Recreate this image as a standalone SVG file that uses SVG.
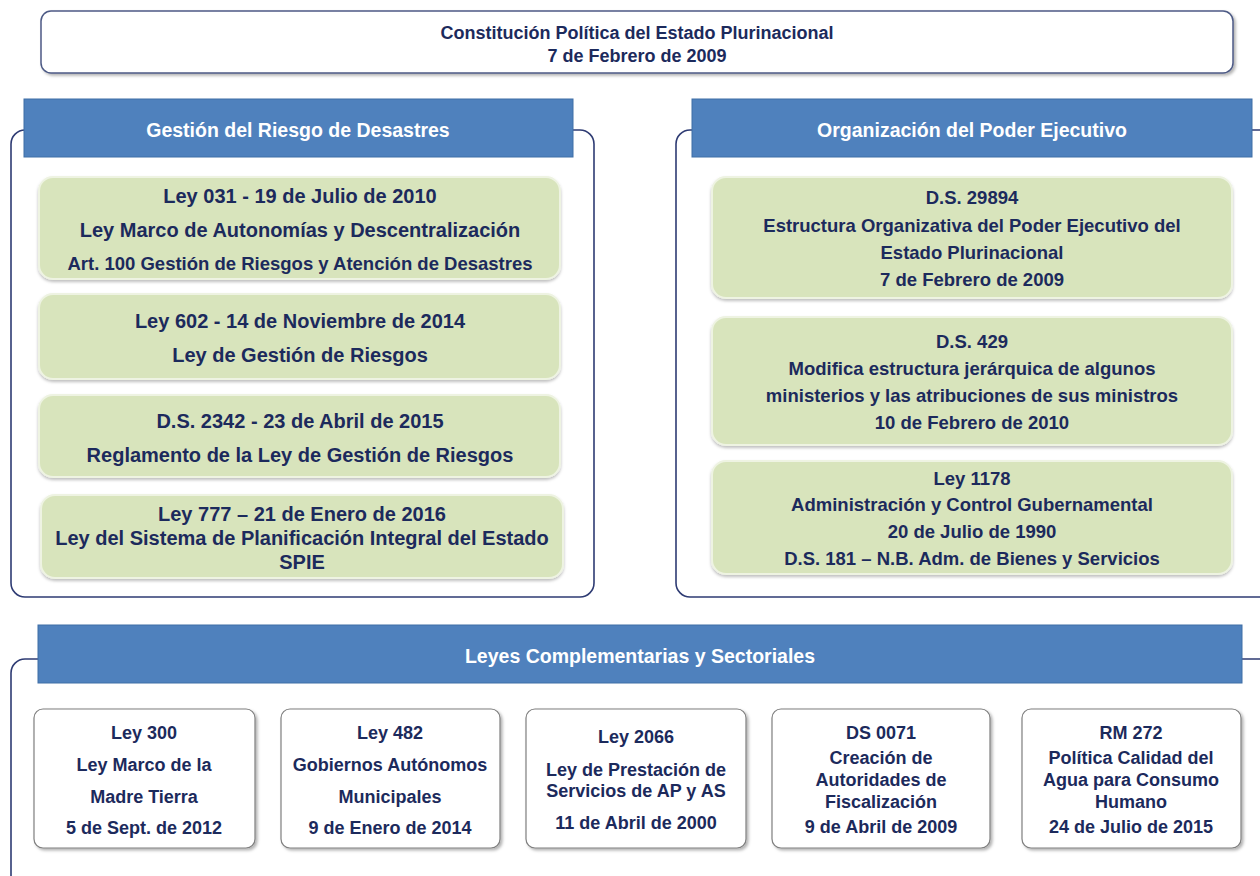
<svg xmlns="http://www.w3.org/2000/svg" width="1260" height="876" viewBox="0 0 1260 876">
<style>
text{font-family:"Liberation Sans",Arial,sans-serif;font-weight:bold;text-anchor:middle;fill:#1c2a5c}
.frame{fill:none;stroke:#2e3b73;stroke-width:1.6}
.hdr{fill:#4f81bd;stroke:#3f6ea6;stroke-width:1}
.hdrt{fill:#ffffff;font-size:19.5px}
.green{fill:#d8e4bc;stroke:#eef3e2;stroke-width:2;filter:url(#sh)}
.gt{font-size:20px}
.gr{font-size:18.5px}
.white{fill:#ffffff;stroke:#7f7f7f;stroke-width:1.2;filter:url(#sh2)}
.wt{font-size:18px}
.tt{font-size:18px}
</style>
<defs>
<filter id="sh" x="-5%" y="-10%" width="110%" height="130%"><feDropShadow dx="0" dy="2" stdDeviation="1.5" flood-color="#000" flood-opacity="0.25"/></filter>
<filter id="sh2" x="-10%" y="-10%" width="120%" height="130%"><feDropShadow dx="2" dy="2" stdDeviation="1.5" flood-color="#000" flood-opacity="0.3"/></filter>
</defs>
<rect width="1260" height="876" fill="#ffffff"/>
<g id="connectors">
<rect class="frame" x="11" y="130" width="583" height="467" rx="14"/>
<rect class="frame" x="676" y="130" width="620" height="467" rx="14"/>
<rect class="frame" x="11" y="659" width="1290" height="320" rx="14"/>
</g>
<g id="constitucion">
<rect x="41" y="11" width="1192" height="62" rx="10" fill="#fff" stroke="#4d5a85" stroke-width="1.5" filter="url(#sh2)"/>
<text class="tt" x="637" y="39">Constitución Política del Estado Plurinacional</text>
<text class="tt" x="637" y="62">7 de Febrero de 2009</text>
</g>
<g id="hdr-gestion">
<rect class="hdr" x="24" y="99" width="549" height="58"/>
<text class="hdrt" x="298" y="137">Gestión del Riesgo de Desastres</text>
</g>
<g id="hdr-organizacion">
<rect class="hdr" x="692" y="99" width="560" height="58"/>
<text class="hdrt" x="972" y="137">Organización del Poder Ejecutivo</text>
</g>
<g id="hdr-leyes">
<rect class="hdr" x="38" y="625" width="1204" height="58"/>
<text class="hdrt" x="640" y="663">Leyes Complementarias y Sectoriales</text>
</g>
<g id="ley031">
<rect class="green" x="39" y="177" width="521" height="102" rx="14"/>
<text class="gt" x="300" y="203">Ley 031 - 19 de Julio de 2010</text>
<text class="gt" x="300" y="237">Ley Marco de Autonomías y Descentralización</text>
<text class="gt" x="300" y="270" style="font-size:18.5px">Art. 100 Gestión de Riesgos y Atención de Desastres</text>
</g>
<g id="ley602">
<rect class="green" x="39" y="294" width="521" height="85" rx="14"/>
<text class="gt" x="300" y="328">Ley 602 - 14 de Noviembre de 2014</text>
<text class="gt" x="300" y="362">Ley de Gestión de Riesgos</text>
</g>
<g id="ds2342">
<rect class="green" x="39" y="395" width="521" height="82" rx="14"/>
<text class="gt" x="300" y="428">D.S. 2342 - 23 de Abril de 2015</text>
<text class="gt" x="300" y="462">Reglamento de la Ley de Gestión de Riesgos</text>
</g>
<g id="ley777">
<rect class="green" x="41" y="495" width="522" height="83" rx="14"/>
<text class="gt" x="302" y="521">Ley 777 – 21 de Enero de 2016</text>
<text class="gt" x="302" y="545">Ley del Sistema de Planificación Integral del Estado</text>
<text class="gt" x="302" y="569">SPIE</text>
</g>
<g id="ds29894">
<rect class="green" x="712" y="177" width="520" height="121" rx="14"/>
<text class="gr" x="972" y="204">D.S. 29894</text>
<text class="gr" x="972" y="232">Estructura Organizativa del Poder Ejecutivo del</text>
<text class="gr" x="972" y="259">Estado Plurinacional</text>
<text class="gr" x="972" y="286">7 de Febrero de 2009</text>
</g>
<g id="ds429">
<rect class="green" x="712" y="317" width="520" height="128" rx="14"/>
<text class="gr" x="972" y="348">D.S. 429</text>
<text class="gr" x="972" y="375">Modifica estructura jerárquica de algunos</text>
<text class="gr" x="972" y="402">ministerios y las atribuciones de sus ministros</text>
<text class="gr" x="972" y="429">10 de Febrero de 2010</text>
</g>
<g id="ley1178">
<rect class="green" x="712" y="461" width="520" height="113" rx="14"/>
<text class="gr" x="972" y="485">Ley 1178</text>
<text class="gr" x="972" y="511">Administración  y Control Gubernamental</text>
<text class="gr" x="972" y="538">20 de Julio de 1990</text>
<text class="gr" x="972" y="565">D.S. 181 – N.B. Adm. de Bienes y Servicios</text>
</g>
<g id="ley300">
<rect class="white" x="34" y="709" width="221" height="139" rx="9"/>
<text class="wt" x="144" y="739">Ley 300</text>
<text class="wt" x="144" y="771">Ley Marco de la</text>
<text class="wt" x="144" y="803">Madre Tierra</text>
<text class="wt" x="144" y="834">5 de Sept. de 2012</text>
</g>
<g id="ley482">
<rect class="white" x="281" y="709" width="219" height="139" rx="9"/>
<text class="wt" x="390" y="739">Ley 482</text>
<text class="wt" x="390" y="771">Gobiernos Autónomos</text>
<text class="wt" x="390" y="803">Municipales</text>
<text class="wt" x="390" y="834">9 de Enero de 2014</text>
</g>
<g id="ley2066">
<rect class="white" x="526" y="709" width="220" height="139" rx="9"/>
<text class="wt" x="636" y="743">Ley 2066</text>
<text class="wt" x="636" y="776">Ley de Prestación de</text>
<text class="wt" x="636" y="797">Servicios de AP y AS</text>
<text class="wt" x="636" y="829">11 de Abril de 2000</text>
</g>
<g id="ds0071">
<rect class="white" x="772" y="709" width="218" height="139" rx="9"/>
<text class="wt" x="881" y="739">DS 0071</text>
<text class="wt" x="881" y="764">Creación de</text>
<text class="wt" x="881" y="786">Autoridades de</text>
<text class="wt" x="881" y="808">Fiscalización</text>
<text class="wt" x="881" y="833">9 de Abril de 2009</text>
</g>
<g id="rm272">
<rect class="white" x="1022" y="709" width="219" height="139" rx="9"/>
<text class="wt" x="1131" y="739">RM 272</text>
<text class="wt" x="1131" y="764">Política Calidad del</text>
<text class="wt" x="1131" y="786">Agua para Consumo</text>
<text class="wt" x="1131" y="808">Humano</text>
<text class="wt" x="1131" y="833">24 de Julio de 2015</text>
</g>
</svg>
